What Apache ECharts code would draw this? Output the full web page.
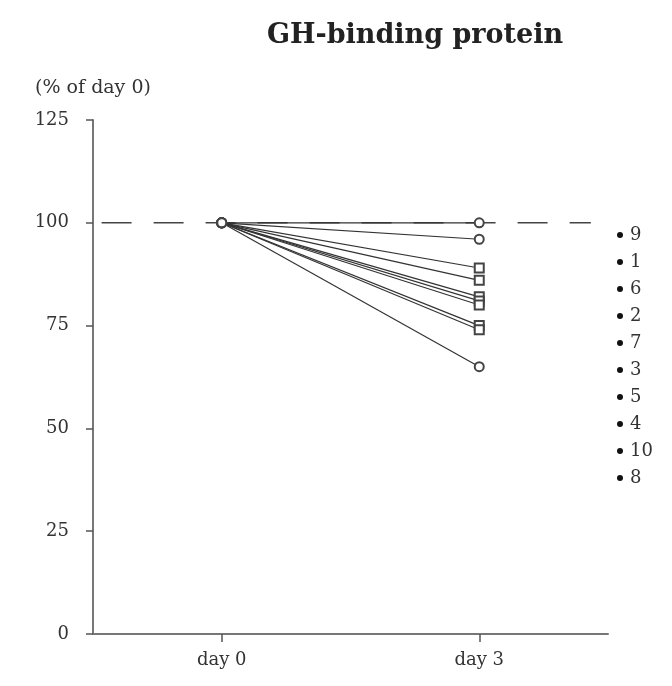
<!DOCTYPE html>
<html>
<head>
<meta charset="utf-8">
<script src="https://cdn.jsdelivr.net/npm/echarts@6/dist/echarts.min.js"></script>
<style>
  html, body { margin: 0; padding: 0; background: #fff; }
  #chart { width: 672px; height: 686px; }
</style>
</head>
<body>
<div id="chart"></div>
<script>
// subjects in legend order, value at day 3 (% of day 0)
var subjects = ['9', '1', '6', '2', '7', '3', '5', '4', '10', '8']
var day0 = [100, 100, 100, 100, 100, 100, 100, 100, 100, 100]
var day3 = [100, 96, 89, 86, 82, 81, 80, 75, 74, 65]
var day3Shape = ['emptyCircle', 'emptyCircle', 'emptyRect', 'emptyRect', 'emptyRect', 'emptyRect', 'emptyRect', 'emptyRect', 'emptyRect', 'emptyCircle']
var dayPos = [0, 3]
var dayLabels = ['day 0', 'day 3']
var refLine = [[-1.4, 100], [4.3, 100]] // dashed 100% reference

var chart = echarts.init(document.getElementById('chart'))
var fnt = '"DejaVu Serif", serif'

var series = subjects.map(function (name, i) {
    return {
        name: name,
        type: 'line',
        data: [
            { value: [dayPos[0], day0[i]], symbol: 'emptyCircle' },
            { value: [dayPos[1], day3[i]], symbol: day3Shape[i] }
        ],
        symbolSize: 9,
        showSymbol: true,
        lineStyle: { color: '#333', width: 1.2 },
        itemStyle: { color: '#444', borderWidth: 1.2 },
        z: 3
    }
})
series.push({
    name: 'ref',
    type: 'line',
    data: refLine,
    symbol: 'none',
    lineStyle: { color: '#444', width: 1.6, type: [30, 22] },
    z: 2,
    silent: true
})

var option = {
    animation: false,
    backgroundColor: '#fff',
    title: {
        text: 'GH-binding protein',
        left: 410,
        top: 17,
        textAlign: 'center',
        textStyle: { fontFamily: '"DejaVu Serif", serif', fontWeight: 'bold', fontSize: 27, color: '#222' }
    },
    legend: {
        data: subjects,
        orient: 'vertical',
        left: 612,
        top: 221,
        icon: 'circle',
        itemWidth: 6,
        itemHeight: 6,
        itemGap: 9,
        itemStyle: { color: '#111', borderWidth: 0 },
        textStyle: { fontFamily: fnt, fontSize: 18, color: '#333', padding: [0, 0, 0, 2] }
    },
    grid: { left: 93, right: 64, top: 120, bottom: 52 },
    xAxis: {
        type: 'value',
        min: -1.5,
        max: 4.5,
        splitLine: { show: false },
        axisLine: { onZero: false, lineStyle: { color: '#777', width: 2 } },
        axisTick: { customValues: dayPos, length: 8, lineStyle: { color: '#555', width: 1.5 } },
        axisLabel: {
            customValues: dayPos,
            margin: 17,
            fontFamily: fnt,
            fontSize: 18,
            color: '#333',
            formatter: function (v) { return dayLabels[dayPos.indexOf(v)] }
        }
    },
    yAxis: {
        type: 'value',
        min: 0,
        max: 125,
        interval: 25,
        name: '(% of day 0)',
        nameLocation: 'end',
        nameGap: 22,
        nameTextStyle: { fontFamily: fnt, fontSize: 19, color: '#333' },
        splitLine: { show: false },
        axisLine: { show: true, onZero: false, lineStyle: { color: '#777', width: 2 } },
        axisTick: { show: true, length: 7, lineStyle: { color: '#555', width: 1.5 } },
        axisLabel: { margin: 24, fontFamily: fnt, fontSize: 18, color: '#333' }
    },
    series: series
}
chart.setOption(option)
</script>
</body>
</html>
